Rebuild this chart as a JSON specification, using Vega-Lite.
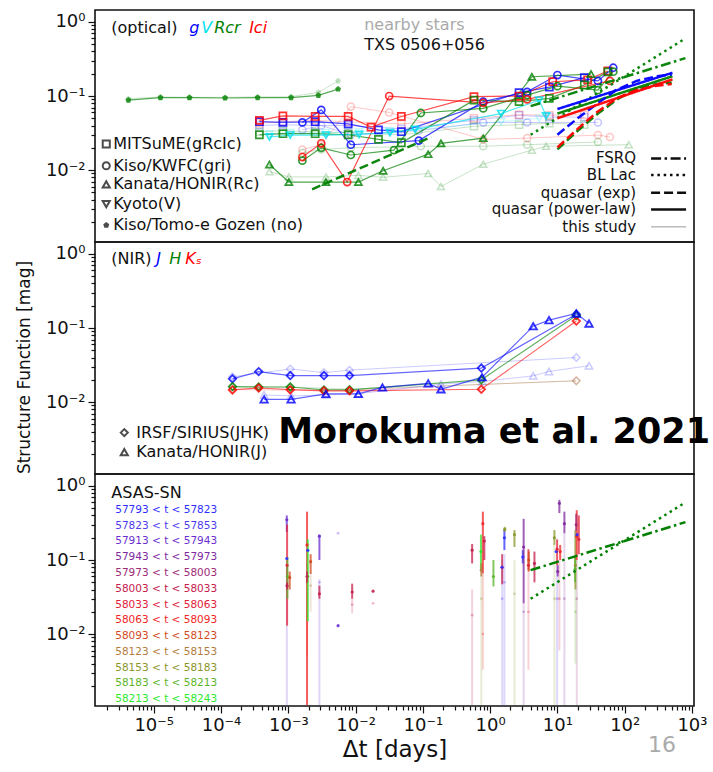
{
"$schema":"https://vega.github.io/schema/vega-lite/v6.json",
"padding":{"left":14,"top":9,"right":0,"bottom":0},
"spacing":0,
"bounds":"flush",
"resolve":{"scale":{"color":"independent","shape":"independent","strokeDash":"independent","strokeWidth":"independent"}},
"config":{"font":"DejaVu Sans","view":{"stroke":"#111111","strokeWidth":1.6},
"axis":{"domain":false,"grid":false,"tickColor":"#111111","tickWidth":1.2,"labelColor":"#111111","labelFont":"DejaVu Sans","labelFontSize":18,"titleFont":"DejaVu Sans","titleFontWeight":"normal","titleColor":"#111111"}},
"datasets":{
"d1":[
{"s":"Tf","i":"Tomoe","b":"no","f":1,"x":4.2e-6,"y":0.092},{"s":"Tf","i":"Tomoe","b":"no","f":1,"x":1.26e-5,"y":0.097},{"s":"Tf","i":"Tomoe","b":"no","f":1,"x":3.4e-5,"y":0.096},{"s":"Tf","i":"Tomoe","b":"no","f":1,"x":1.15e-4,"y":0.096},{"s":"Tf","i":"Tomoe","b":"no","f":1,"x":3.5e-4,"y":0.097},{"s":"Tf","i":"Tomoe","b":"no","f":1,"x":1.1e-3,"y":0.098},{"s":"Tf","i":"Tomoe","b":"no","f":1,"x":2.8e-3,"y":0.112},{"s":"Tf","i":"Tomoe","b":"no","f":1,"x":5.5e-3,"y":0.16},
{"s":"Mgf","i":"MITSuME","b":"g","f":1,"x":3.72e-4,"y":0.040},{"s":"Mgf","i":"MITSuME","b":"g","f":1,"x":8.32e-4,"y":0.041},{"s":"Mgf","i":"MITSuME","b":"g","f":1,"x":2.51e-3,"y":0.040},{"s":"Mgf","i":"MITSuME","b":"g","f":1,"x":7.76e-3,"y":0.040},{"s":"Mgf","i":"MITSuME","b":"g","f":1,"x":0.0479,"y":0.036},{"s":"Mgf","i":"MITSuME","b":"g","f":1,"x":0.575,"y":0.047},{"s":"Mgf","i":"MITSuME","b":"g","f":1,"x":2.69,"y":0.055},{"s":"Mgf","i":"MITSuME","b":"g","f":1,"x":7.59,"y":0.052},{"s":"Mgf","i":"MITSuME","b":"g","f":1,"x":25.1,"y":0.052},
{"s":"MIf","i":"MITSuME","b":"Ic","f":1,"x":3.72e-4,"y":0.043},{"s":"MIf","i":"MITSuME","b":"Ic","f":1,"x":8.32e-4,"y":0.045},{"s":"MIf","i":"MITSuME","b":"Ic","f":1,"x":2.51e-3,"y":0.047},{"s":"MIf","i":"MITSuME","b":"Ic","f":1,"x":7.76e-3,"y":0.045},{"s":"MIf","i":"MITSuME","b":"Ic","f":1,"x":0.0479,"y":0.042},{"s":"MIf","i":"MITSuME","b":"Ic","f":1,"x":0.575,"y":0.050},{"s":"MIf","i":"MITSuME","b":"Ic","f":1,"x":2.69,"y":0.056},{"s":"MIf","i":"MITSuME","b":"Ic","f":1,"x":7.59,"y":0.055},{"s":"MIf","i":"MITSuME","b":"Ic","f":1,"x":25.1,"y":0.056},
{"s":"MRf","i":"MITSuME","b":"Rc","f":1,"x":3.72e-4,"y":0.033},{"s":"MRf","i":"MITSuME","b":"Rc","f":1,"x":8.32e-4,"y":0.034},{"s":"MRf","i":"MITSuME","b":"Rc","f":1,"x":2.51e-3,"y":0.033},{"s":"MRf","i":"MITSuME","b":"Rc","f":1,"x":7.76e-3,"y":0.032},{"s":"MRf","i":"MITSuME","b":"Rc","f":1,"x":0.0479,"y":0.030},{"s":"MRf","i":"MITSuME","b":"Rc","f":1,"x":0.575,"y":0.039},{"s":"MRf","i":"MITSuME","b":"Rc","f":1,"x":2.69,"y":0.041},{"s":"MRf","i":"MITSuME","b":"Rc","f":1,"x":7.59,"y":0.043},{"s":"MRf","i":"MITSuME","b":"Rc","f":1,"x":25.1,"y":0.041},
{"s":"Kif","i":"Kiso","b":"i","f":1,"x":1.62e-3,"y":0.019},{"s":"Kif","i":"Kiso","b":"i","f":1,"x":3.09e-3,"y":0.022},{"s":"Kif","i":"Kiso","b":"i","f":1,"x":8.5e-3,"y":0.072},{"s":"Kif","i":"Kiso","b":"i","f":1,"x":0.0316,"y":0.060},{"s":"Kif","i":"Kiso","b":"i","f":1,"x":0.79,"y":0.026},{"s":"Kif","i":"Kiso","b":"i","f":1,"x":3.55,"y":0.027},{"s":"Kif","i":"Kiso","b":"i","f":1,"x":40,"y":0.0297},{"s":"Kif","i":"Kiso","b":"i","f":1,"x":60.3,"y":0.028},
{"s":"Krf","i":"Kiso","b":"r","f":1,"x":1.62e-3,"y":0.017},{"s":"Krf","i":"Kiso","b":"r","f":1,"x":3.09e-3,"y":0.019},{"s":"Krf","i":"Kiso","b":"r","f":1,"x":8.5e-3,"y":0.020},{"s":"Krf","i":"Kiso","b":"r","f":1,"x":0.0933,"y":0.021},{"s":"Krf","i":"Kiso","b":"r","f":1,"x":0.79,"y":0.021},{"s":"Krf","i":"Kiso","b":"r","f":1,"x":3.55,"y":0.022},{"s":"Krf","i":"Kiso","b":"r","f":1,"x":40,"y":0.024},
{"s":"Kgf","i":"Kiso","b":"g","f":1,"x":1.62e-3,"y":0.035},{"s":"Kgf","i":"Kiso","b":"g","f":1,"x":3.09e-3,"y":0.040},{"s":"Kgf","i":"Kiso","b":"g","f":1,"x":8.5e-3,"y":0.030},{"s":"Kgf","i":"Kiso","b":"g","f":1,"x":0.087,"y":0.034},{"s":"Kgf","i":"Kiso","b":"g","f":1,"x":0.79,"y":0.044},{"s":"Kgf","i":"Kiso","b":"g","f":1,"x":3.55,"y":0.044},{"s":"Kgf","i":"Kiso","b":"g","f":1,"x":40,"y":0.044},
{"s":"NRf","i":"Kanata","b":"Rc","f":1,"x":5.25e-4,"y":0.0095},{"s":"NRf","i":"Kanata","b":"Rc","f":1,"x":1.02e-3,"y":0.0081},{"s":"NRf","i":"Kanata","b":"Rc","f":1,"x":3.63e-3,"y":0.0081},{"s":"NRf","i":"Kanata","b":"Rc","f":1,"x":0.011,"y":0.0085},{"s":"NRf","i":"Kanata","b":"Rc","f":1,"x":0.0257,"y":0.0080},{"s":"NRf","i":"Kanata","b":"Rc","f":1,"x":0.12,"y":0.0090},{"s":"NRf","i":"Kanata","b":"Rc","f":1,"x":0.186,"y":0.0060},{"s":"NRf","i":"Kanata","b":"Rc","f":1,"x":0.79,"y":0.012},{"s":"NRf","i":"Kanata","b":"Rc","f":1,"x":4.17,"y":0.0186},{"s":"NRf","i":"Kanata","b":"Rc","f":1,"x":6.8,"y":0.021},{"s":"NRf","i":"Kanata","b":"Rc","f":1,"x":115,"y":0.022},
{"s":"YVf","i":"Kyoto","b":"V","f":1,"x":5.25e-4,"y":0.031},{"s":"YVf","i":"Kyoto","b":"V","f":1,"x":1.07e-3,"y":0.032},{"s":"YVf","i":"Kyoto","b":"V","f":1,"x":3.63e-3,"y":0.032},{"s":"YVf","i":"Kyoto","b":"V","f":1,"x":0.0113,"y":0.033},{"s":"YVf","i":"Kyoto","b":"V","f":1,"x":0.0325,"y":0.034},{"s":"YVf","i":"Kyoto","b":"V","f":1,"x":0.077,"y":0.035},{"s":"YVf","i":"Kyoto","b":"V","f":1,"x":1.46,"y":0.045},{"s":"YVf","i":"Kyoto","b":"V","f":1,"x":5.35,"y":0.050},
{"s":"T","i":"Tomoe","b":"no","f":0,"x":4.2e-6,"y":0.088},{"s":"T","i":"Tomoe","b":"no","f":0,"x":1.26e-5,"y":0.095},{"s":"T","i":"Tomoe","b":"no","f":0,"x":3.4e-5,"y":0.095},{"s":"T","i":"Tomoe","b":"no","f":0,"x":1.15e-4,"y":0.094},{"s":"T","i":"Tomoe","b":"no","f":0,"x":3.5e-4,"y":0.095},{"s":"T","i":"Tomoe","b":"no","f":0,"x":1.1e-3,"y":0.095},{"s":"T","i":"Tomoe","b":"no","f":0,"x":2.8e-3,"y":0.102},{"s":"T","i":"Tomoe","b":"no","f":0,"x":5.5e-3,"y":0.124},
{"s":"Mg","i":"MITSuME","b":"g","f":0,"x":3.72e-4,"y":0.045},{"s":"Mg","i":"MITSuME","b":"g","f":0,"x":8.32e-4,"y":0.044},{"s":"Mg","i":"MITSuME","b":"g","f":0,"x":2.51e-3,"y":0.045},{"s":"Mg","i":"MITSuME","b":"g","f":0,"x":7.76e-3,"y":0.042},{"s":"Mg","i":"MITSuME","b":"g","f":0,"x":0.0219,"y":0.035},{"s":"Mg","i":"MITSuME","b":"g","f":0,"x":0.0479,"y":0.033},{"s":"Mg","i":"MITSuME","b":"g","f":0,"x":2.69,"y":0.111},{"s":"Mg","i":"MITSuME","b":"g","f":0,"x":7.59,"y":0.132},{"s":"Mg","i":"MITSuME","b":"g","f":0,"x":25.1,"y":0.177},
{"s":"MI","i":"MITSuME","b":"Ic","f":0,"x":3.72e-4,"y":0.047},{"s":"MI","i":"MITSuME","b":"Ic","f":0,"x":8.32e-4,"y":0.054},{"s":"MI","i":"MITSuME","b":"Ic","f":0,"x":2.51e-3,"y":0.053},{"s":"MI","i":"MITSuME","b":"Ic","f":0,"x":7.76e-3,"y":0.053},{"s":"MI","i":"MITSuME","b":"Ic","f":0,"x":0.017,"y":0.038},{"s":"MI","i":"MITSuME","b":"Ic","f":0,"x":0.0479,"y":0.053},{"s":"MI","i":"MITSuME","b":"Ic","f":0,"x":0.575,"y":0.098},{"s":"MI","i":"MITSuME","b":"Ic","f":0,"x":2.69,"y":0.100},{"s":"MI","i":"MITSuME","b":"Ic","f":0,"x":8.51,"y":0.156},{"s":"MI","i":"MITSuME","b":"Ic","f":0,"x":28.2,"y":0.165},{"s":"MI","i":"MITSuME","b":"Ic","f":0,"x":56.2,"y":0.218},
{"s":"MR","i":"MITSuME","b":"Rc","f":0,"x":3.72e-4,"y":0.030},{"s":"MR","i":"MITSuME","b":"Rc","f":0,"x":8.32e-4,"y":0.031},{"s":"MR","i":"MITSuME","b":"Rc","f":0,"x":2.51e-3,"y":0.031},{"s":"MR","i":"MITSuME","b":"Rc","f":0,"x":7.76e-3,"y":0.030},{"s":"MR","i":"MITSuME","b":"Rc","f":0,"x":0.0219,"y":0.026},{"s":"MR","i":"MITSuME","b":"Rc","f":0,"x":0.0479,"y":0.0234},{"s":"MR","i":"MITSuME","b":"Rc","f":0,"x":0.575,"y":0.088},{"s":"MR","i":"MITSuME","b":"Rc","f":0,"x":2.69,"y":0.084},{"s":"MR","i":"MITSuME","b":"Rc","f":0,"x":7.59,"y":0.093},{"s":"MR","i":"MITSuME","b":"Rc","f":0,"x":25.1,"y":0.141},{"s":"MR","i":"MITSuME","b":"Rc","f":0,"x":56.2,"y":0.212},
{"s":"Kg","i":"Kiso","b":"g","f":0,"x":1.62e-3,"y":0.044},{"s":"Kg","i":"Kiso","b":"g","f":0,"x":3.09e-3,"y":0.065},{"s":"Kg","i":"Kiso","b":"g","f":0,"x":8.5e-3,"y":0.022},{"s":"Kg","i":"Kiso","b":"g","f":0,"x":0.087,"y":0.025},{"s":"Kg","i":"Kiso","b":"g","f":0,"x":0.79,"y":0.084},{"s":"Kg","i":"Kiso","b":"g","f":0,"x":3.55,"y":0.114},{"s":"Kg","i":"Kiso","b":"g","f":0,"x":10,"y":0.192},{"s":"Kg","i":"Kiso","b":"g","f":0,"x":40,"y":0.160},{"s":"Kg","i":"Kiso","b":"g","f":0,"x":67.6,"y":0.241},
{"s":"Kr","i":"Kiso","b":"r","f":0,"x":1.62e-3,"y":0.0134},{"s":"Kr","i":"Kiso","b":"r","f":0,"x":3.09e-3,"y":0.020},{"s":"Kr","i":"Kiso","b":"r","f":0,"x":8.5e-3,"y":0.016},{"s":"Kr","i":"Kiso","b":"r","f":0,"x":0.0372,"y":0.0186},{"s":"Kr","i":"Kiso","b":"r","f":0,"x":0.0933,"y":0.059},{"s":"Kr","i":"Kiso","b":"r","f":0,"x":0.79,"y":0.068},{"s":"Kr","i":"Kiso","b":"r","f":0,"x":3.55,"y":0.103},{"s":"Kr","i":"Kiso","b":"r","f":0,"x":10,"y":0.136},{"s":"Kr","i":"Kiso","b":"r","f":0,"x":40,"y":0.120},{"s":"Kr","i":"Kiso","b":"r","f":0,"x":67.6,"y":0.213},
{"s":"Ki","i":"Kiso","b":"i","f":0,"x":1.62e-3,"y":0.015},{"s":"Ki","i":"Kiso","b":"i","f":0,"x":3.09e-3,"y":0.023},{"s":"Ki","i":"Kiso","b":"i","f":0,"x":7.5e-3,"y":0.0069},{"s":"Ki","i":"Kiso","b":"i","f":0,"x":0.0316,"y":0.100},{"s":"Ki","i":"Kiso","b":"i","f":0,"x":0.79,"y":0.081},{"s":"Ki","i":"Kiso","b":"i","f":0,"x":3.55,"y":0.090},{"s":"Ki","i":"Kiso","b":"i","f":0,"x":60.3,"y":0.160},
{"s":"NR","i":"Kanata","b":"Rc","f":0,"x":5.25e-4,"y":0.0119},{"s":"NR","i":"Kanata","b":"Rc","f":0,"x":1.02e-3,"y":0.0069},{"s":"NR","i":"Kanata","b":"Rc","f":0,"x":3.63e-3,"y":0.0069},{"s":"NR","i":"Kanata","b":"Rc","f":0,"x":0.011,"y":0.0069},{"s":"NR","i":"Kanata","b":"Rc","f":0,"x":0.0257,"y":0.0098},{"s":"NR","i":"Kanata","b":"Rc","f":0,"x":0.12,"y":0.0164},{"s":"NR","i":"Kanata","b":"Rc","f":0,"x":0.186,"y":0.023},{"s":"NR","i":"Kanata","b":"Rc","f":0,"x":0.79,"y":0.027},{"s":"NR","i":"Kanata","b":"Rc","f":0,"x":4.17,"y":0.182},{"s":"NR","i":"Kanata","b":"Rc","f":0,"x":31.6,"y":0.198},
{"s":"YV","i":"Kyoto","b":"V","f":0,"x":5.25e-4,"y":0.028},{"s":"YV","i":"Kyoto","b":"V","f":0,"x":1.07e-3,"y":0.0297},{"s":"YV","i":"Kyoto","b":"V","f":0,"x":3.63e-3,"y":0.0297},{"s":"YV","i":"Kyoto","b":"V","f":0,"x":0.0113,"y":0.0303},{"s":"YV","i":"Kyoto","b":"V","f":0,"x":0.0325,"y":0.032},{"s":"YV","i":"Kyoto","b":"V","f":0,"x":0.077,"y":0.0355},{"s":"YV","i":"Kyoto","b":"V","f":0,"x":1.46,"y":0.058},{"s":"YV","i":"Kyoto","b":"V","f":0,"x":5.35,"y":0.088},{"s":"YV","i":"Kyoto","b":"V","f":0,"x":6.8,"y":0.054}
],
"m1":[
{"id":"F","m":"FSRQ","b":"Rc","x":4,"y":0.073},{"id":"F","m":"FSRQ","b":"Rc","x":800,"y":0.325},
{"id":"B","m":"BL","b":"Rc","x":4,"y":0.030},{"id":"B","m":"BL","b":"Rc","x":800,"y":0.60},
{"id":"El","m":"exp","b":"Rc","x":2.26e-3,"y":0.0055},{"id":"El","m":"exp","b":"Rc","x":0.133,"y":0.028},
{"id":"Er","m":"exp","b":"Rc","x":10,"y":0.019},{"id":"Er","m":"exp","b":"Rc","x":20,"y":0.034},{"id":"Er","m":"exp","b":"Rc","x":40,"y":0.058},{"id":"Er","m":"exp","b":"Rc","x":80,"y":0.092},{"id":"Er","m":"exp","b":"Rc","x":150,"y":0.125},{"id":"Er","m":"exp","b":"Rc","x":300,"y":0.145},{"id":"Er","m":"exp","b":"Rc","x":500,"y":0.152},
{"id":"Pr","m":"pow","b":"Rc","x":10,"y":0.058},{"id":"Pr","m":"pow","b":"Rc","x":513,"y":0.185},
{"id":"Eg","m":"exp","b":"g","x":10,"y":0.030},{"id":"Eg","m":"exp","b":"g","x":20,"y":0.050},{"id":"Eg","m":"exp","b":"g","x":40,"y":0.080},{"id":"Eg","m":"exp","b":"g","x":74,"y":0.120},{"id":"Eg","m":"exp","b":"g","x":150,"y":0.160},{"id":"Eg","m":"exp","b":"g","x":300,"y":0.185},{"id":"Eg","m":"exp","b":"g","x":500,"y":0.195},
{"id":"Pg","m":"pow","b":"g","x":10,"y":0.0667},{"id":"Pg","m":"pow","b":"g","x":513,"y":0.206},
{"id":"Ei","m":"exp","b":"Ic","x":10,"y":0.0203},{"id":"Ei","m":"exp","b":"Ic","x":20,"y":0.036},{"id":"Ei","m":"exp","b":"Ic","x":40,"y":0.062},{"id":"Ei","m":"exp","b":"Ic","x":80,"y":0.095},{"id":"Ei","m":"exp","b":"Ic","x":150,"y":0.120},{"id":"Ei","m":"exp","b":"Ic","x":300,"y":0.138},{"id":"Ei","m":"exp","b":"Ic","x":500,"y":0.145},
{"id":"Pi","m":"pow","b":"Ic","x":10,"y":0.050},{"id":"Pi","m":"pow","b":"Ic","x":513,"y":0.168},
{"id":"LF","m":"FSRQ","b":"k","x":246.8,"y":0.01439},{"id":"LF","m":"FSRQ","b":"k","x":817,"y":0.01439},
{"id":"LB","m":"BL","b":"k","x":246.8,"y":0.00856},{"id":"LB","m":"BL","b":"k","x":817,"y":0.00856},
{"id":"LE","m":"exp","b":"k","x":246.8,"y":0.00493},{"id":"LE","m":"exp","b":"k","x":817,"y":0.00493},
{"id":"LP","m":"pow","b":"k","x":246.8,"y":0.002942},{"id":"LP","m":"pow","b":"k","x":817,"y":0.002942}
],
"ts1":[{"x":246.8,"y":0.001713},{"x":817,"y":0.001713}],
"lm1":[{"i":"MITSuME","b":"k","x":1.97e-6,"y":0.02245},{"i":"Kiso","b":"k","x":1.97e-6,"y":0.01143},{"i":"Kanata","b":"k","x":1.97e-6,"y":0.00641},{"i":"Kyoto","b":"k","x":1.97e-6,"y":0.003475},{"i":"Tomoe","b":"k","x":1.97e-6,"y":0.001807}],
"t1":[
{"k":"n","x":2.34e-6,"y":0.83,"t":"(optical)"},
{"k":"it","b":"g","x":3.37e-5,"y":0.83,"t":"g"},
{"k":"it","b":"V","x":5.07e-5,"y":0.83,"t":"V"},
{"k":"it","b":"Rc","x":7.92e-5,"y":0.83,"t":"Rᴄr"},
{"k":"it","b":"Ic","x":2.62e-4,"y":0.83,"t":"Iᴄi"},
{"k":"gray","x":0.01343,"y":0.911,"t":"nearby stars"},
{"k":"n","x":0.01343,"y":0.489,"t":"TXS 0506+056"},
{"k":"n","x":2.5e-6,"y":0.02245,"t":"MITSuME(gRᴄIᴄ)"},
{"k":"n","x":2.5e-6,"y":0.01143,"t":"Kiso/KWFC(gri)"},
{"k":"n","x":2.5e-6,"y":0.00641,"t":"Kanata/HONIR(Rᴄ)"},
{"k":"n","x":2.5e-6,"y":0.003475,"t":"Kyoto(V)"},
{"k":"n","x":2.5e-6,"y":0.001807,"t":"Kiso/Tomo-e Gozen (no)"},
{"k":"r","x":147.6,"y":0.01439,"t":"FSRQ"},
{"k":"r","x":147.6,"y":0.00856,"t":"BL Lac"},
{"k":"r","x":147.6,"y":0.00493,"t":"quasar (exp)"},
{"k":"r","x":147.6,"y":0.002942,"t":"quasar (power-law)"},
{"k":"r","x":147.6,"y":0.001713,"t":"this study"}
],
"d2":[
{"s":"IJf","i":"IRSF","b":"J","f":1,"x":1.48e-4,"y":0.022},{"s":"IJf","i":"IRSF","b":"J","f":1,"x":1.07e-3,"y":0.028},{"s":"IJf","i":"IRSF","b":"J","f":1,"x":3.39e-3,"y":0.025},{"s":"IJf","i":"IRSF","b":"J","f":1,"x":8.13e-3,"y":0.027},{"s":"IJf","i":"IRSF","b":"J","f":1,"x":19.1,"y":0.040},
{"s":"IHf","i":"IRSF","b":"H","f":1,"x":1.48e-4,"y":0.016},{"s":"IHf","i":"IRSF","b":"H","f":1,"x":1.07e-3,"y":0.016},{"s":"IHf","i":"IRSF","b":"H","f":1,"x":8.13e-3,"y":0.015},{"s":"IHf","i":"IRSF","b":"H","f":1,"x":19.1,"y":0.0193},
{"s":"IKf","i":"IRSF","b":"Ks","f":1,"x":1.48e-4,"y":0.0148},{"s":"IKf","i":"IRSF","b":"Ks","f":1,"x":1.07e-3,"y":0.0145},{"s":"IKf","i":"IRSF","b":"Ks","f":1,"x":8.13e-3,"y":0.0145},{"s":"IKf","i":"IRSF","b":"Ks","f":1,"x":19.1,"y":0.0195},
{"s":"NJf","i":"Kanata","b":"J","f":1,"x":4.37e-4,"y":0.0125},{"s":"NJf","i":"Kanata","b":"J","f":1,"x":1.1e-3,"y":0.0121},{"s":"NJf","i":"Kanata","b":"J","f":1,"x":3.63e-3,"y":0.0125},{"s":"NJf","i":"Kanata","b":"J","f":1,"x":0.011,"y":0.013},{"s":"NJf","i":"Kanata","b":"J","f":1,"x":0.186,"y":0.0175},{"s":"NJf","i":"Kanata","b":"J","f":1,"x":0.76,"y":0.019},{"s":"NJf","i":"Kanata","b":"J","f":1,"x":4.37,"y":0.0226},{"s":"NJf","i":"Kanata","b":"J","f":1,"x":7.5,"y":0.0259},{"s":"NJf","i":"Kanata","b":"J","f":1,"x":29.5,"y":0.031},
{"s":"IJ","i":"IRSF","b":"J","f":0,"x":1.48e-4,"y":0.0206},{"s":"IJ","i":"IRSF","b":"J","f":0,"x":3.63e-4,"y":0.0258},{"s":"IJ","i":"IRSF","b":"J","f":0,"x":1.07e-3,"y":0.0228},{"s":"IJ","i":"IRSF","b":"J","f":0,"x":3.39e-3,"y":0.0228},{"s":"IJ","i":"IRSF","b":"J","f":0,"x":8.13e-3,"y":0.0228},{"s":"IJ","i":"IRSF","b":"J","f":0,"x":0.74,"y":0.0288},{"s":"IJ","i":"IRSF","b":"J","f":0,"x":19.1,"y":0.153},
{"s":"IH","i":"IRSF","b":"H","f":0,"x":1.48e-4,"y":0.0162},{"s":"IH","i":"IRSF","b":"H","f":0,"x":3.63e-4,"y":0.016},{"s":"IH","i":"IRSF","b":"H","f":0,"x":1.07e-3,"y":0.016},{"s":"IH","i":"IRSF","b":"H","f":0,"x":3.39e-3,"y":0.0146},{"s":"IH","i":"IRSF","b":"H","f":0,"x":8.13e-3,"y":0.0146},{"s":"IH","i":"IRSF","b":"H","f":0,"x":0.74,"y":0.020},{"s":"IH","i":"IRSF","b":"H","f":0,"x":19.1,"y":0.148},
{"s":"IK","i":"IRSF","b":"Ks","f":0,"x":1.48e-4,"y":0.0146},{"s":"IK","i":"IRSF","b":"Ks","f":0,"x":3.63e-4,"y":0.0155},{"s":"IK","i":"IRSF","b":"Ks","f":0,"x":1.07e-3,"y":0.0147},{"s":"IK","i":"IRSF","b":"Ks","f":0,"x":3.39e-3,"y":0.0142},{"s":"IK","i":"IRSF","b":"Ks","f":0,"x":8.13e-3,"y":0.0142},{"s":"IK","i":"IRSF","b":"Ks","f":0,"x":0.74,"y":0.0149},{"s":"IK","i":"IRSF","b":"Ks","f":0,"x":19.1,"y":0.124},
{"s":"NJ","i":"Kanata","b":"J","f":0,"x":4.37e-4,"y":0.0109},{"s":"NJ","i":"Kanata","b":"J","f":0,"x":1.1e-3,"y":0.0109},{"s":"NJ","i":"Kanata","b":"J","f":0,"x":3.63e-3,"y":0.0129},{"s":"NJ","i":"Kanata","b":"J","f":0,"x":0.011,"y":0.0129},{"s":"NJ","i":"Kanata","b":"J","f":0,"x":0.0251,"y":0.0158},{"s":"NJ","i":"Kanata","b":"J","f":0,"x":0.12,"y":0.0179},{"s":"NJ","i":"Kanata","b":"J","f":0,"x":0.186,"y":0.0149},{"s":"NJ","i":"Kanata","b":"J","f":0,"x":0.76,"y":0.0217},{"s":"NJ","i":"Kanata","b":"J","f":0,"x":4.37,"y":0.106},{"s":"NJ","i":"Kanata","b":"J","f":0,"x":7.5,"y":0.128},{"s":"NJ","i":"Kanata","b":"J","f":0,"x":19.1,"y":0.157},{"s":"NJ","i":"Kanata","b":"J","f":0,"x":29.5,"y":0.115}
],
"lm2":[{"i":"IRSF","x":3.65e-6,"y":0.003873},{"i":"Kanata","x":3.65e-6,"y":0.002108}],
"t2":[
{"k":"n","x":2.34e-6,"y":0.855,"t":"(NIR)"},
{"k":"it","b":"J","x":1.09e-5,"y":0.855,"t":"J"},
{"k":"it","b":"H","x":1.7e-5,"y":0.855,"t":"H"},
{"k":"it","b":"Ks","x":2.94e-5,"y":0.855,"t":"Kₛ"},
{"k":"n","x":5.49e-6,"y":0.003873,"t":"IRSF/SIRIUS(JHK)"},
{"k":"n","x":5.49e-6,"y":0.002108,"t":"Kanata/HONIR(J)"},
{"k":"big","x":7.08e-4,"y":0.002767,"t":"Morokuma et al. 2021"}
],
"d3":[
{"k":"57913","f":1,"x":0.00095,"y":0.045,"lo":0.0011,"hi":0.09},
{"k":"58093","f":1,"x":0.0019,"y":0.05,"lo":0.005,"hi":0.09},
{"k":"58123","f":1,"x":0.00215,"y":0.045,"lo":0.02,"hi":0.07},
{"k":"57913","f":1,"x":0.0029,"y":0.05,"lo":0.0011,"hi":0.055},
{"k":"57913","f":1,"x":0.0055,"y":0.23,"lo":0.23,"hi":0.23},
{"k":"58003","f":1,"x":0.0089,"y":0.025,"lo":0.019,"hi":0.03},
{"k":"58003","f":1,"x":0.0182,"y":0.026,"lo":0.026,"hi":0.026},
{"k":"58003","f":1,"x":0.54,"y":0.018,"lo":0.0011,"hi":0.04},
{"k":"58153","f":1,"x":0.74,"y":0.03,"lo":0.0011,"hi":0.07},
{"k":"58063","f":1,"x":0.78,"y":0.01,"lo":0.0033,"hi":0.066},
{"k":"57823","f":1,"x":1.51,"y":0.03,"lo":0.0011,"hi":0.1},
{"k":"57823","f":1,"x":1.63,"y":0.05,"lo":0.0011,"hi":0.12},
{"k":"58153","f":1,"x":2.3,"y":0.035,"lo":0.0011,"hi":0.1},
{"k":"57943","f":1,"x":3.15,"y":0.02,"lo":0.0011,"hi":0.026},
{"k":"58033","f":1,"x":3.71,"y":0.02,"lo":0.0033,"hi":0.073},
{"k":"58153","f":1,"x":9.02,"y":0.03,"lo":0.0011,"hi":0.16},
{"k":"57823","f":1,"x":9.9,"y":0.03,"lo":0.0011,"hi":0.085},
{"k":"58003","f":1,"x":10.7,"y":0.03,"lo":0.006,"hi":0.1},
{"k":"57943","f":1,"x":12.7,"y":0.03,"lo":0.0011,"hi":0.23},
{"k":"57973","f":1,"x":19.4,"y":0.03,"lo":0.0011,"hi":0.1},
{"k":"58183","f":1,"x":18.5,"y":0.02,"lo":0.004,"hi":0.04},
{"k":"57913","f":0,"x":0.00095,"y":0.35,"lo":0.24,"hi":0.40},
{"k":"58033","f":0,"x":0.00096,"y":0.085,"lo":0.013,"hi":0.30},
{"k":"58183","f":0,"x":0.00097,"y":0.06,"lo":0.03,"hi":0.11},
{"k":"57793","f":0,"x":0.00095,"y":0.105,"lo":0.105,"hi":0.105},
{"k":"58093","f":0,"x":0.00105,"y":0.058,"lo":0.04,"hi":0.07},
{"k":"58003","f":0,"x":0.00096,"y":0.045,"lo":0.04,"hi":0.05},
{"k":"58063","f":0,"x":0.0019,"y":0.16,"lo":0.0011,"hi":0.45},
{"k":"58213","f":0,"x":0.00195,"y":0.06,"lo":0.015,"hi":0.19},
{"k":"57793","f":0,"x":0.00195,"y":0.135,"lo":0.135,"hi":0.135},
{"k":"58093","f":0,"x":0.00215,"y":0.095,"lo":0.065,"hi":0.12},
{"k":"58003","f":0,"x":0.0019,"y":0.06,"lo":0.05,"hi":0.07},
{"k":"57913","f":0,"x":0.0029,"y":0.21,"lo":0.10,"hi":0.22},
{"k":"58003","f":0,"x":0.0029,"y":0.035,"lo":0.03,"hi":0.045},
{"k":"57913","f":0,"x":0.0055,"y":0.013,"lo":0.013,"hi":0.013},
{"k":"58003","f":0,"x":0.0089,"y":0.037,"lo":0.03,"hi":0.048},
{"k":"58003","f":0,"x":0.0182,"y":0.038,"lo":0.038,"hi":0.038},
{"k":"58003","f":0,"x":0.54,"y":0.136,"lo":0.09,"hi":0.165},
{"k":"58213","f":0,"x":0.73,"y":0.13,"lo":0.073,"hi":0.22},
{"k":"58123","f":0,"x":0.74,"y":0.073,"lo":0.06,"hi":0.09},
{"k":"58063","f":0,"x":0.78,"y":0.31,"lo":0.066,"hi":0.45},
{"k":"58003","f":0,"x":0.82,"y":0.18,"lo":0.1,"hi":0.21},
{"k":"58183","f":0,"x":1.12,"y":0.06,"lo":0.044,"hi":0.1},
{"k":"58003","f":0,"x":1.51,"y":0.08,"lo":0.047,"hi":0.12},
{"k":"57793","f":0,"x":1.5,"y":0.08,"lo":0.08,"hi":0.08},
{"k":"57793","f":0,"x":1.63,"y":0.2,"lo":0.136,"hi":0.26},
{"k":"58153","f":0,"x":1.65,"y":0.26,"lo":0.24,"hi":0.28},
{"k":"58153","f":0,"x":2.3,"y":0.22,"lo":0.15,"hi":0.254},
{"k":"57793","f":0,"x":3.06,"y":0.11,"lo":0.09,"hi":0.136},
{"k":"57943","f":0,"x":3.15,"y":0.15,"lo":0.026,"hi":0.36},
{"k":"58033","f":0,"x":3.71,"y":0.085,"lo":0.073,"hi":0.14},
{"k":"58093","f":0,"x":3.75,"y":0.1,"lo":0.07,"hi":0.13},
{"k":"58003","f":0,"x":4.56,"y":0.09,"lo":0.05,"hi":0.13},
{"k":"58153","f":0,"x":9.02,"y":0.2,"lo":0.16,"hi":0.254},
{"k":"57793","f":0,"x":9.6,"y":0.13,"lo":0.13,"hi":0.13},
{"k":"58033","f":0,"x":9.9,"y":0.14,"lo":0.085,"hi":0.19},
{"k":"57943","f":0,"x":10.1,"y":0.07,"lo":0.06,"hi":0.085},
{"k":"57943","f":0,"x":10.7,"y":0.583,"lo":0.43,"hi":0.65},
{"k":"58063","f":0,"x":11,"y":0.13,"lo":0.1,"hi":0.16},
{"k":"57943","f":0,"x":12.7,"y":0.31,"lo":0.23,"hi":0.45},
{"k":"58153","f":0,"x":18.5,"y":0.085,"lo":0.04,"hi":0.254},
{"k":"58183","f":0,"x":18.3,"y":0.075,"lo":0.05,"hi":0.11},
{"k":"58063","f":0,"x":19.4,"y":0.207,"lo":0.1,"hi":0.47},
{"k":"57793","f":0,"x":19.6,"y":0.22,"lo":0.22,"hi":0.22},
{"k":"58033","f":0,"x":20.8,"y":0.19,"lo":0.12,"hi":0.4},
{"k":"57973","f":0,"x":19,"y":0.3,"lo":0.25,"hi":0.42}
],
"m3":[
{"id":"F","m":"FSRQ","x":4,"y":0.073},{"id":"F","m":"FSRQ","x":800,"y":0.325},
{"id":"B","m":"BL","x":4,"y":0.030},{"id":"B","m":"BL","x":800,"y":0.60}
],
"t3":[
{"k":"57793","x":2.68e-6,"y":0.474,"t":"57793 < t < 57823"},
{"k":"57823","x":2.68e-6,"y":0.290,"t":"57823 < t < 57853"},
{"k":"57913","x":2.68e-6,"y":0.178,"t":"57913 < t < 57943"},
{"k":"57943","x":2.68e-6,"y":0.109,"t":"57943 < t < 57973"},
{"k":"57973","x":2.68e-6,"y":0.0667,"t":"57973 < t < 58003"},
{"k":"58003","x":2.68e-6,"y":0.0409,"t":"58003 < t < 58033"},
{"k":"58033","x":2.68e-6,"y":0.0250,"t":"58033 < t < 58063"},
{"k":"58063","x":2.68e-6,"y":0.01534,"t":"58063 < t < 58093"},
{"k":"58093","x":2.68e-6,"y":0.0094,"t":"58093 < t < 58123"},
{"k":"58123","x":2.68e-6,"y":0.00575,"t":"58123 < t < 58153"},
{"k":"58153","x":2.68e-6,"y":0.00353,"t":"58153 < t < 58183"},
{"k":"58183","x":2.68e-6,"y":0.00216,"t":"58183 < t < 58213"},
{"k":"58213","x":2.68e-6,"y":0.00132,"t":"58213 < t < 58243"}
],
"t3b":[{"k":"asas","x":2.34e-6,"y":0.81,"t":"ASAS-SN"}],
"t3c":[{"x":222.8,"y":0.000316,"t":"16"}]
},
"vconcat":[
{
"width":599,"height":232,
"encoding":{
"x":{"field":"x","type":"quantitative","scale":{"type":"log","domain":[1.34e-6,1072],"nice":false},"axis":null},
"y":{"field":"y","type":"quantitative","scale":{"type":"log","domain":[0.00107,1.45],"nice":false},
"axis":{"values":[0.002,0.003,0.004,0.005,0.006,0.007,0.008,0.009,0.01,0.02,0.03,0.04,0.05,0.06,0.07,0.08,0.09,0.1,0.2,0.3,0.4,0.5,0.6,0.7,0.8,0.9,1],
"labelExpr":"datum.value==1?'10⁰':datum.value==0.1?'10⁻¹':datum.value==0.01?'10⁻²':''",
"tickSize":{"condition":{"test":"datum.value==1||datum.value==0.1||datum.value==0.01","value":7},"value":4},
"labelOverlap":false,"labelFlush":false,"labelPadding":3,"title":null}}
},
"layer":[
{"data":{"name":"d1"},"transform":[{"filter":"datum.f==1"}],"mark":{"type":"line","strokeWidth":1,"opacity":0.22},
"encoding":{"detail":{"field":"s"},"color":{"field":"b","type":"nominal","scale":{"domain":["g","V","Rc","r","Ic","i","no","k"],"range":["#0000ff","#00e0ee","#008000","#008000","#ff0000","#ff0000","#118811","#000000"]},"legend":null}}},
{"data":{"name":"d1"},"transform":[{"filter":"datum.f==1 && datum.i!='Tomoe'"}],"mark":{"type":"point","filled":false,"size":50,"strokeWidth":1.5,"opacity":0.22},
"encoding":{"color":{"field":"b","type":"nominal","legend":null},"shape":{"field":"i","type":"nominal","scale":{"domain":["MITSuME","Kiso","Kanata","Kyoto"],"range":["square","circle","triangle-up","triangle-down"]},"legend":null}}},
{"data":{"name":"d1"},"transform":[{"filter":"datum.f==1 && datum.i=='Tomoe'"}],"mark":{"type":"point","filled":true,"size":38,"opacity":0.25,"shape":"M0,-1L0.951,-0.309L0.588,0.809L-0.588,0.809L-0.951,-0.309Z"},
"encoding":{"color":{"field":"b","type":"nominal","legend":null}}},
{"data":{"name":"d1"},"transform":[{"filter":"datum.f==0"}],"mark":{"type":"line","strokeWidth":1.2,"opacity":0.7},
"encoding":{"detail":{"field":"s"},"color":{"field":"b","type":"nominal","legend":null}}},
{"data":{"name":"d1"},"transform":[{"filter":"datum.f==0 && datum.i!='Tomoe'"}],"mark":{"type":"point","filled":false,"size":50,"strokeWidth":1.7,"opacity":0.8},
"encoding":{"color":{"field":"b","type":"nominal","legend":null},"shape":{"field":"i","type":"nominal","legend":null}}},
{"data":{"name":"d1"},"transform":[{"filter":"datum.f==0 && datum.i=='Tomoe'"}],"mark":{"type":"point","filled":true,"size":38,"opacity":0.85,"shape":"M0,-1L0.951,-0.309L0.588,0.809L-0.588,0.809L-0.951,-0.309Z"},
"encoding":{"color":{"field":"b","type":"nominal","legend":null}}},
{"data":{"name":"m1"},"mark":{"type":"line","opacity":0.95},
"encoding":{"detail":{"field":"id"},"color":{"field":"b","type":"nominal","legend":null},
"strokeDash":{"field":"m","type":"nominal","scale":{"domain":["FSRQ","BL","exp","pow"],"range":[[10,3.5,2.5,3.5],[2.5,3.8],[9,4],[1,0]]},"legend":null},
"strokeWidth":{"field":"m","type":"nominal","scale":{"domain":["FSRQ","BL","exp","pow"],"range":[2.5,2.5,3,3.4]},"legend":null}}},
{"data":{"name":"ts1"},"mark":{"type":"line","strokeWidth":1,"color":"#999999"},"encoding":{}},
{"data":{"name":"lm1"},"transform":[{"filter":"datum.i!='Tomoe'"}],"mark":{"type":"point","filled":false,"size":50,"strokeWidth":2},
"encoding":{"color":{"field":"b","type":"nominal","legend":null},"shape":{"field":"i","type":"nominal","legend":null}}},
{"data":{"name":"lm1"},"transform":[{"filter":"datum.i=='Tomoe'"}],"mark":{"type":"point","filled":true,"size":40,"shape":"M0,-1L0.951,-0.309L0.588,0.809L-0.588,0.809L-0.951,-0.309Z"},
"encoding":{"color":{"field":"b","type":"nominal","legend":null}}},
{"data":{"name":"t1"},"transform":[{"filter":"datum.k=='n'"}],"mark":{"type":"text","align":"left","baseline":"middle","fontSize":16,"color":"#111111"},"encoding":{"text":{"field":"t"}}},
{"data":{"name":"t1"},"transform":[{"filter":"datum.k=='r'"}],"mark":{"type":"text","align":"right","baseline":"middle","fontSize":15,"color":"#111111"},"encoding":{"text":{"field":"t"}}},
{"data":{"name":"t1"},"transform":[{"filter":"datum.k=='gray'"}],"mark":{"type":"text","align":"left","baseline":"middle","fontSize":16,"color":"#aaaaaa"},"encoding":{"text":{"field":"t"}}},
{"data":{"name":"t1"},"transform":[{"filter":"datum.k=='it'"}],"mark":{"type":"text","align":"left","baseline":"middle","fontSize":16,"fontStyle":"italic"},"encoding":{"text":{"field":"t"},"color":{"field":"b","type":"nominal","legend":null}}}
]
},
{
"width":599,"height":232,
"encoding":{
"x":{"field":"x","type":"quantitative","scale":{"type":"log","domain":[1.34e-6,1072],"nice":false},"axis":null},
"y":{"field":"y","type":"quantitative","scale":{"type":"log","domain":[0.00107,1.45],"nice":false},
"axis":{"values":[0.002,0.003,0.004,0.005,0.006,0.007,0.008,0.009,0.01,0.02,0.03,0.04,0.05,0.06,0.07,0.08,0.09,0.1,0.2,0.3,0.4,0.5,0.6,0.7,0.8,0.9,1],
"labelExpr":"datum.value==1?'10⁰':datum.value==0.1?'10⁻¹':datum.value==0.01?'10⁻²':''",
"tickSize":{"condition":{"test":"datum.value==1||datum.value==0.1||datum.value==0.01","value":7},"value":4},
"labelOverlap":false,"labelFlush":false,"labelPadding":3,"title":"Structure Function [mag]","titleFontSize":17,"titlePadding":12,"titleY":125}}
},
"layer":[
{"data":{"name":"d2"},"transform":[{"filter":"datum.f==1"}],"mark":{"type":"line","strokeWidth":1,"opacity":0.2},
"encoding":{"detail":{"field":"s"},"color":{"field":"b","type":"nominal","scale":{"domain":["J","H","Ks","k"],"range":["#0000ff","#008000","#ff0000","#000000"]},"legend":null}}},
{"data":{"name":"d2"},"transform":[{"filter":"datum.f==1"}],"mark":{"type":"point","filled":false,"size":55,"strokeWidth":1.5,"opacity":0.2},
"encoding":{"color":{"field":"b","type":"nominal","legend":null},"shape":{"field":"i","type":"nominal","scale":{"domain":["IRSF","Kanata"],"range":["diamond","triangle-up"]},"legend":null}}},
{"data":{"name":"d2"},"transform":[{"filter":"datum.f==0"}],"mark":{"type":"line","strokeWidth":1.2,"opacity":0.6},
"encoding":{"detail":{"field":"s"},"color":{"field":"b","type":"nominal","legend":null}}},
{"data":{"name":"d2"},"transform":[{"filter":"datum.f==0"}],"mark":{"type":"point","filled":false,"size":55,"strokeWidth":1.8,"opacity":0.8},
"encoding":{"color":{"field":"b","type":"nominal","legend":null},"shape":{"field":"i","type":"nominal","legend":null}}},
{"data":{"name":"lm2"},"mark":{"type":"point","filled":false,"size":50,"strokeWidth":2,"color":"#000000"},
"encoding":{"shape":{"field":"i","type":"nominal","legend":null}}},
{"data":{"name":"t2"},"transform":[{"filter":"datum.k=='n'"}],"mark":{"type":"text","align":"left","baseline":"middle","fontSize":16,"color":"#111111"},"encoding":{"text":{"field":"t"}}},
{"data":{"name":"t2"},"transform":[{"filter":"datum.k=='it'"}],"mark":{"type":"text","align":"left","baseline":"middle","fontSize":16,"fontStyle":"italic"},"encoding":{"text":{"field":"t"},"color":{"field":"b","type":"nominal","legend":null}}},
{"data":{"name":"t2"},"transform":[{"filter":"datum.k=='big'"}],"mark":{"type":"text","align":"left","baseline":"alphabetic","fontSize":35,"fontWeight":"bold","color":"#000000"},"encoding":{"text":{"field":"t"}}}
]
},
{
"width":599,"height":232,
"encoding":{
"x":{"field":"x","type":"quantitative","scale":{"type":"log","domain":[1.34e-6,1072],"nice":false},
"axis":{"values":[2e-6,3e-6,4e-6,5e-6,6e-6,7e-6,8e-6,9e-6,1e-5,2e-5,3e-5,4e-5,5e-5,6e-5,7e-5,8e-5,9e-5,1e-4,2e-4,3e-4,4e-4,5e-4,6e-4,7e-4,8e-4,9e-4,0.001,0.002,0.003,0.004,0.005,0.006,0.007,0.008,0.009,0.01,0.02,0.03,0.04,0.05,0.06,0.07,0.08,0.09,0.1,0.2,0.3,0.4,0.5,0.6,0.7,0.8,0.9,1,2,3,4,5,6,7,8,9,10,20,30,40,50,60,70,80,90,100,200,300,400,500,600,700,800,900,1000],
"labelExpr":"datum.value==1e-5?'10⁻⁵':datum.value==1e-4?'10⁻⁴':datum.value==0.001?'10⁻³':datum.value==0.01?'10⁻²':datum.value==0.1?'10⁻¹':datum.value==1?'10⁰':datum.value==10?'10¹':datum.value==100?'10²':datum.value==1000?'10³':''",
"tickSize":{"condition":{"test":"datum.value==1e-5||datum.value==1e-4||datum.value==0.001||datum.value==0.01||datum.value==0.1||datum.value==1||datum.value==10||datum.value==100||datum.value==1000","value":7},"value":4},
"labelOverlap":false,"labelFlush":false,"labelPadding":3,"title":"Δt [days]","titleFontSize":23,"titlePadding":4}},
"y":{"field":"y","type":"quantitative","scale":{"type":"log","domain":[0.00107,1.45],"nice":false},
"axis":{"values":[0.002,0.003,0.004,0.005,0.006,0.007,0.008,0.009,0.01,0.02,0.03,0.04,0.05,0.06,0.07,0.08,0.09,0.1,0.2,0.3,0.4,0.5,0.6,0.7,0.8,0.9,1],
"labelExpr":"datum.value==1?'10⁰':datum.value==0.1?'10⁻¹':datum.value==0.01?'10⁻²':''",
"tickSize":{"condition":{"test":"datum.value==1||datum.value==0.1||datum.value==0.01","value":7},"value":4},
"labelOverlap":false,"labelFlush":false,"labelPadding":3,"title":null}}
},
"layer":[
{"data":{"name":"d3"},"transform":[{"filter":"datum.f==1"}],"mark":{"type":"point","filled":true,"size":8,"opacity":0.3,"clip":true},
"encoding":{"color":{"field":"k","type":"nominal","scale":{"domain":["57793","57823","57913","57943","57973","58003","58033","58063","58093","58123","58153","58183","58213"],"range":["#2f2fff","#4f3cf0","#6a2fd0","#7f2aa0","#a02c78","#c4204e","#e2203a","#f02626","#d24a1e","#b47c3c","#8a962a","#5cb42a","#2ee82e"]},"legend":null}}},
{"data":{"name":"d3"},"transform":[{"filter":"datum.f==1"}],"mark":{"type":"rule","strokeWidth":2,"opacity":0.2,"clip":true},
"encoding":{"y":{"field":"lo","type":"quantitative","scale":{"type":"log","domain":[0.00107,1.45],"nice":false},
"axis":{"values":[0.002,0.003,0.004,0.005,0.006,0.007,0.008,0.009,0.01,0.02,0.03,0.04,0.05,0.06,0.07,0.08,0.09,0.1,0.2,0.3,0.4,0.5,0.6,0.7,0.8,0.9,1],
"labelExpr":"datum.value==1?'10⁰':datum.value==0.1?'10⁻¹':datum.value==0.01?'10⁻²':''",
"tickSize":{"condition":{"test":"datum.value==1||datum.value==0.1||datum.value==0.01","value":7},"value":4},
"labelOverlap":false,"labelFlush":false,"labelPadding":3,"title":null}},"y2":{"field":"hi"},
"color":{"field":"k","type":"nominal","legend":null}}},
{"data":{"name":"d3"},"transform":[{"filter":"datum.f==0"}],"mark":{"type":"rule","strokeWidth":2,"opacity":0.75,"clip":true},
"encoding":{"y":{"field":"lo","type":"quantitative","scale":{"type":"log","domain":[0.00107,1.45],"nice":false},
"axis":{"values":[0.002,0.003,0.004,0.005,0.006,0.007,0.008,0.009,0.01,0.02,0.03,0.04,0.05,0.06,0.07,0.08,0.09,0.1,0.2,0.3,0.4,0.5,0.6,0.7,0.8,0.9,1],
"labelExpr":"datum.value==1?'10⁰':datum.value==0.1?'10⁻¹':datum.value==0.01?'10⁻²':''",
"tickSize":{"condition":{"test":"datum.value==1||datum.value==0.1||datum.value==0.01","value":7},"value":4},
"labelOverlap":false,"labelFlush":false,"labelPadding":3,"title":null}},"y2":{"field":"hi"},"color":{"field":"k","type":"nominal","legend":null}}},
{"data":{"name":"d3"},"transform":[{"filter":"datum.f==0"}],"mark":{"type":"point","filled":true,"size":10,"opacity":0.9},
"encoding":{"color":{"field":"k","type":"nominal","legend":null}}},
{"data":{"name":"m3"},"mark":{"type":"line","color":"#008000","strokeWidth":2.5},
"encoding":{"detail":{"field":"id"},"strokeDash":{"field":"m","type":"nominal","scale":{"domain":["FSRQ","BL"],"range":[[10,3.5,2.5,3.5],[2.5,3.8]]},"legend":null}}},
{"data":{"name":"t3b"},"mark":{"type":"text","align":"left","baseline":"middle","fontSize":16,"color":"#111111"},"encoding":{"text":{"field":"t"}}},
{"data":{"name":"t3"},"mark":{"type":"text","align":"left","baseline":"middle","fontSize":10.5},"encoding":{"text":{"field":"t"},"color":{"field":"k","type":"nominal","legend":null}}},
{"data":{"name":"t3c"},"mark":{"type":"text","align":"left","baseline":"middle","fontSize":22,"color":"#aaaaaa"},"encoding":{"text":{"field":"t"}}}
]
}
]
}
